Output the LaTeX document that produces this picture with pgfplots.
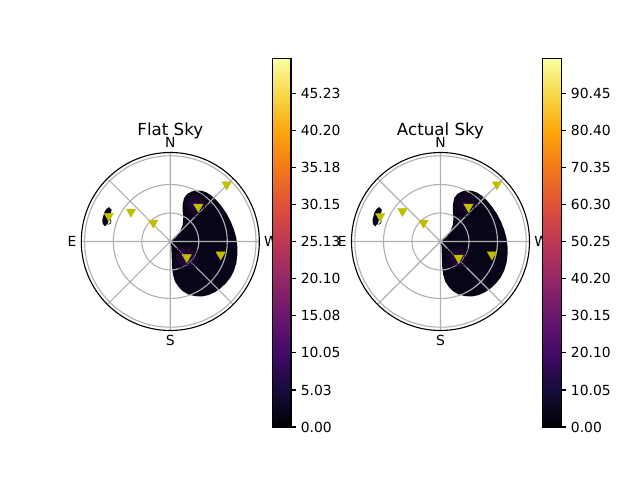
\documentclass[border=0pt]{standalone}
\usepackage{pgfplots}
\pgfplotsset{compat=1.18}
\usepgfplotslibrary{polar}
\usepackage{fontspec}
\setmainfont{DejaVu Sans}
\definecolor{gridc}{HTML}{B0B0B0}
\definecolor{mk}{HTML}{BFBF00}
\definecolor{basec}{RGB}{9,5,25}
\definecolor{glowc}{RGB}{100,24,150}
\pgfplotsset{
  colormap={inferno}{rgb255=(0,0,4) rgb255=(22,11,57) rgb255=(66,10,104) rgb255=(106,23,110) rgb255=(147,38,103) rgb255=(188,55,84) rgb255=(221,81,58) rgb255=(243,120,25) rgb255=(252,165,10) rgb255=(246,215,70) rgb255=(252,255,164)},
  mypolar/.style={
    scale only axis, width=128.16pt, height=128.16pt,
    ymin=0, ymax=89,
    ytick={28.5,57,85.7}, yticklabels={},
    xtick={0,45,...,315}, xticklabels={W,,N,,E,,S,},
    xticklabel style={font=\fontsize{10}{12}\selectfont},
    grid=major, major grid style={gridc, line width=0.8pt},
    axis line style={black, line width=0.8pt},
    y axis line style={draw=none},
    tick style={draw=none},
    axis on top,
    title style={at={(0.5,1)}, anchor=base, yshift=-2pt, font=\fontsize{12}{14}\selectfont},
  },
  overlay/.style={
    scale only axis, width=128.16pt, height=128.16pt,
    ymin=0, ymax=89, hide axis,
  },
  mycb/.style={
    anchor=south west,
    scale only axis, width=13.46pt, height=265.46pt,
    xmin=0, xmax=1, ymin=0,
    xtick=\empty,
    ytick pos=right, yticklabel pos=right,
    tick align=outside, major tick length=3.5pt,
    ytick style={draw=black, line width=0.8pt},
    axis line style={line width=0.8pt},
    yticklabel style={font=\fontsize{10}{12}\selectfont},
    axis on top, colormap name=inferno,
  },
  glow/.style={only marks, data cs=cart, mark=*,
    mark options={draw=none, fill=glowc, fill opacity=#1}},
  tri/.style={only marks, data cs=cart, mark=triangle*, mark size=3.8pt,
    mark options={rotate=180, fill=mk, draw=mk}},
}
\pgfplotstableread{
x y
0 0
5.7 4.4
9.7 10.0
12.4 16.7
13.0 23.4
12.4 30.0
12.4 36.7
13.7 43.4
17.0 47.7
21.4 50.0
26.4 51.0
31.4 50.7
36.4 49.0
41.4 45.7
46.4 41.0
51.4 35.0
56.4 27.7
60.4 20.0
63.7 11.7
66.0 3.4
67.0 -5.0
67.0 -13.3
66.0 -21.6
63.7 -29.0
60.4 -35.6
55.7 -41.6
50.4 -46.6
44.7 -50.6
38.0 -53.6
31.4 -55.0
24.7 -54.6
18.0 -53.0
12.4 -49.6
8.0 -45.0
4.7 -40.0
2.7 -33.3
1.7 -25.0
1.4 -15.0
1.0 -5.0
0 0
}\regionA
\pgfplotstableread{
x y
-61.3 34.4
-58.6 31.7
-60.3 25.7
-62.6 18.4
-65.3 15.0
-67.6 17.7
-68.0 21.7
-66.0 29.0
-63.8 32.7
-61.3 34.4
}\blob
\begin{document}
\begin{tikzpicture}
\path[use as bounding box] (0,0) rectangle (460.8pt,345.6pt);
% ---------- Flat Sky ----------
\begin{polaraxis}[mypolar, at={(122.62pt,171.72pt)}, anchor=center, title={Flat Sky}]
\addplot[fill=basec, draw=none, data cs=cart] table[x=x,y=y] {\regionA};
\addplot[fill=basec, draw=none, data cs=cart] table[x=x,y=y] {\blob};
\addplot[glow=0.15, mark size=9.4pt] coordinates {(16,-16)};
\addplot[glow=0.15, mark size=7.9pt] coordinates {(16,-16)};
\addplot[glow=0.15, mark size=6.5pt] coordinates {(16,-16)};
\addplot[glow=0.15, mark size=5pt] coordinates {(16,-16)};
\addplot[glow=0.15, mark size=3.6pt] coordinates {(16,-16)};
\addplot[glow=0.15, mark size=2.2pt] coordinates {(16,-16)};
\addplot[glow=0.12, mark size=8.5pt] coordinates {(25,37)};
\addplot[glow=0.12, mark size=7pt] coordinates {(25,37)};
\addplot[glow=0.12, mark size=5.5pt] coordinates {(25,37)};
\addplot[glow=0.12, mark size=4pt] coordinates {(25,37)};
\addplot[glow=0.12, mark size=2.5pt] coordinates {(25,37)};
\addplot[glow=0.12, mark size=2pt] coordinates {(-62,20)};
\end{polaraxis}
\begin{polaraxis}[overlay, at={(122.62pt,171.72pt)}, anchor=center]
\addplot[tri] coordinates {
(-61.5,25.5) (-39.3,29.7) (-17,18.7) (28,34.7) (56.4,57) (16.4,-15.7) (50.4,-13)};
\end{polaraxis}
\begin{axis}[mycb, at={(196.06pt,38.16pt)}, ymax=50,
    ytick={0,5.025,10.05,15.075,20.1,25.125,30.15,35.175,40.2,45.225},
    yticklabels={0.00,5.03,10.05,15.08,20.10,25.13,30.15,35.18,40.20,45.23}]
\addplot[surf, shader=interp, point meta=y] coordinates {
(0,0) (1,0)

(0,5) (1,5)

(0,10) (1,10)

(0,15) (1,15)

(0,20) (1,20)

(0,25) (1,25)

(0,30) (1,30)

(0,35) (1,35)

(0,40) (1,40)

(0,45) (1,45)

(0,50) (1,50)
};
\end{axis}
% ---------- Actual Sky ----------
\begin{polaraxis}[mypolar, at={(317.16pt,171.72pt)}, anchor=center, title={Actual Sky}]
\addplot[fill=basec, draw=none, data cs=cart] table[x=x,y=y] {\regionA};
\addplot[fill=basec, draw=none, data cs=cart] table[x=x,y=y] {\blob};
\addplot[glow=0.11, mark size=9.4pt] coordinates {(17,-16)};
\addplot[glow=0.11, mark size=7.9pt] coordinates {(17,-16)};
\addplot[glow=0.11, mark size=6.5pt] coordinates {(17,-16)};
\addplot[glow=0.11, mark size=5pt] coordinates {(17,-16)};
\addplot[glow=0.11, mark size=3.6pt] coordinates {(17,-16)};
\addplot[glow=0.11, mark size=2.2pt] coordinates {(17,-16)};
\addplot[glow=0.09, mark size=8.5pt] coordinates {(25,37)};
\addplot[glow=0.09, mark size=7pt] coordinates {(25,37)};
\addplot[glow=0.09, mark size=5.5pt] coordinates {(25,37)};
\addplot[glow=0.09, mark size=4pt] coordinates {(25,37)};
\addplot[glow=0.09, mark size=2.5pt] coordinates {(25,37)};
\addplot[glow=0.1, mark size=2pt] coordinates {(-62,20)};
\end{polaraxis}
\begin{polaraxis}[overlay, at={(317.16pt,171.72pt)}, anchor=center]
\addplot[tri] coordinates {
(-60.3,25.3) (-38,30.3) (-17,18.7) (28,34.7) (56.4,57) (18,-16.3) (51.4,-13)};
\end{polaraxis}
\begin{axis}[mycb, at={(390.6pt,38.16pt)}, ymax=100,
    ytick={0,10.05,20.1,30.15,40.2,50.25,60.3,70.35,80.4,90.45},
    yticklabels={0.00,10.05,20.10,30.15,40.20,50.25,60.30,70.35,80.40,90.45}]
\addplot[surf, shader=interp, point meta=y] coordinates {
(0,0) (1,0)

(0,10) (1,10)

(0,20) (1,20)

(0,30) (1,30)

(0,40) (1,40)

(0,50) (1,50)

(0,60) (1,60)

(0,70) (1,70)

(0,80) (1,80)

(0,90) (1,90)

(0,100) (1,100)
};
\end{axis}
\end{tikzpicture}
\end{document}
